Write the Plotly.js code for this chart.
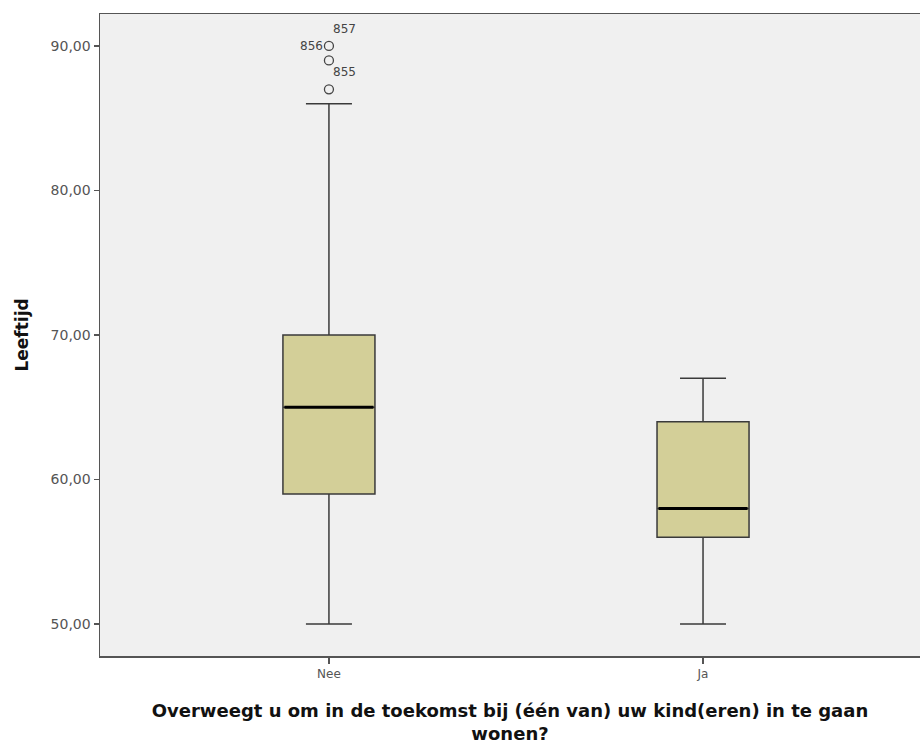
<!DOCTYPE html>
<html>
<head>
<meta charset="utf-8">
<script src="https://cdn.plot.ly/plotly-3.0.1.min.js"></script>
<style>
html,body{margin:0;padding:0;overflow:hidden;background:#fff;}
#chart{width:920px;height:744px;}
</style>
</head>
<body>
<div id="chart"></div>
<script>
// Data
const categories = ['Nee', 'Ja'];
const lowerWhisker = [50, 50];
const q1 = [59, 56];
const median = [65, 58];
const q3 = [70, 64];
const upperWhisker = [86, 67];
const outlierY = [87, 89, 90];          // outliers for "Nee"
const labelText = ['856', '857', '855'];
const labelY = [90, 90, 89];

const xpos = categories.map((c, i) => i);
const boxW = 0.246;
const FONT = 'DejaVu Sans, Verdana, sans-serif';

const traces = [];
traces.push({
  type: 'box',
  x: xpos,
  q1: q1,
  median: median,
  q3: q3,
  lowerfence: lowerWhisker,
  upperfence: upperWhisker,
  width: boxW,
  whiskerwidth: 0.5,
  fillcolor: '#d3cf98',
  line: {color: '#3a3a3a', width: 1.5},
  boxpoints: false,
  hoverinfo: 'skip',
  showlegend: false
});
// Thick median lines
xpos.forEach((x, i) => {
  traces.push({
    type: 'scatter', mode: 'lines',
    x: [x - boxW / 2 + 0.004, x + boxW / 2 - 0.004],
    y: [median[i], median[i]],
    line: {color: '#000', width: 3},
    hoverinfo: 'skip', showlegend: false
  });
});
// Outliers
traces.push({
  type: 'scatter', mode: 'markers',
  x: outlierY.map(() => xpos[0]),
  y: outlierY,
  marker: {symbol: 'circle-open', size: 9, color: '#444', line: {width: 1.3, color: '#444'}},
  hoverinfo: 'skip', showlegend: false
});

const labelPos = [
  {xanchor: 'right', yanchor: 'middle', xshift: -4, yshift: 0},
  {xanchor: 'left', yanchor: 'bottom', xshift: 2, yshift: 8},
  {xanchor: 'left', yanchor: 'top', xshift: 2, yshift: -3}
];
const annotations = labelText.map((t, i) => Object.assign({
  x: xpos[0], y: labelY[i], xref: 'x', yref: 'y', text: t, showarrow: false,
  font: {family: FONT, size: 12, color: '#444'}
}, labelPos[i]));

const layout = {
  width: 920, height: 744,
  margin: {l: 100, r: 0, t: 14, b: 88},
  paper_bgcolor: '#ffffff',
  plot_bgcolor: '#f0f0f0',
  separators: ',.',
  showlegend: false,
  font: {family: FONT, color: '#555'},
  xaxis: {
    range: [-0.612, 1.58],
    tickvals: xpos, ticktext: categories,
    showgrid: false, zeroline: false,
    showline: true, mirror: true, linecolor: '#555', linewidth: 1.5,
    ticks: 'outside', ticklen: 6, tickcolor: '#555', tickwidth: 1.5,
    tickfont: {family: FONT, size: 12, color: '#555'},
    title: {text: 'Overweegt u om in de toekomst bij (één van) uw kind(eren) in te gaan<br>wonen?',
            font: {size: 18, color: '#111', family: FONT, weight: 'bold'},
            standoff: 33}
  },
  yaxis: {
    range: [47.79, 92.21],
    tickvals: [50, 60, 70, 80, 90],
    tickformat: '.2f',
    showgrid: false, zeroline: false,
    showline: true, mirror: false, linecolor: '#555', linewidth: 1.5,
    ticks: 'outside', ticklen: 5, tickcolor: '#555', tickwidth: 1.5,
    tickfont: {family: FONT, size: 14, color: '#555'},
    title: {text: 'Leeftijd', font: {size: 17, color: '#111', family: FONT, weight: 'bold'},
            standoff: 17}
  },
  annotations: annotations
};

Plotly.newPlot('chart', traces, layout, {displayModeBar: false, staticPlot: true});
</script>
</body>
</html>
